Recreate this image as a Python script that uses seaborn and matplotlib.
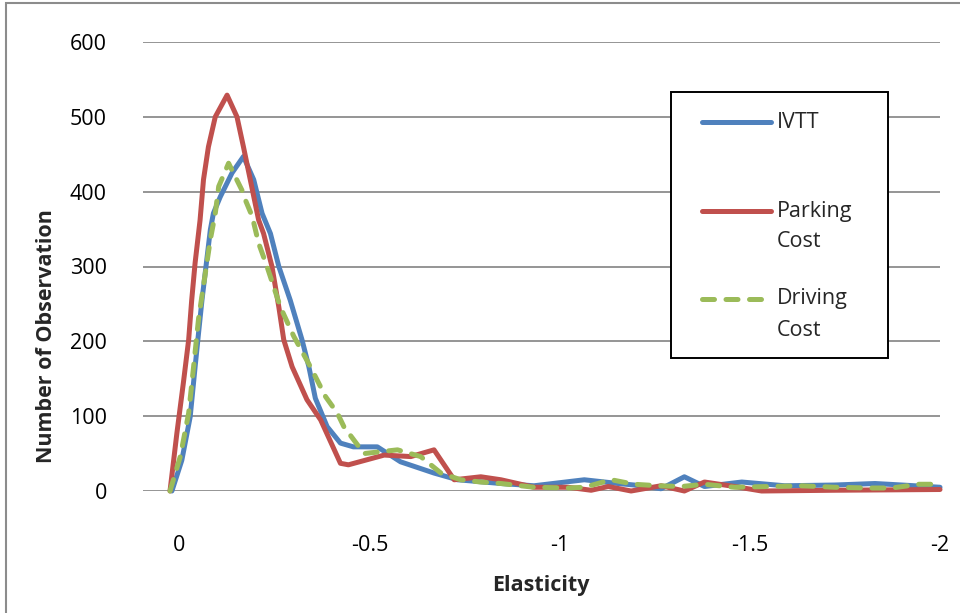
import numpy as np
import pandas as pd
import matplotlib
matplotlib.use("Agg")
import matplotlib.pyplot as plt
import seaborn as sns
from matplotlib.patches import Rectangle
from matplotlib.lines import Line2D

# ---- data ----
ivtt_x = [0.019, -0.007, -0.029, -0.042, -0.051, -0.060, -0.082, -0.090, -0.108, -0.139,
          -0.169, -0.196, -0.218, -0.240, -0.262, -0.292, -0.323, -0.341, -0.358, -0.389,
          -0.424, -0.458, -0.521, -0.582, -0.670, -0.732, -0.846, -0.933, -1.065, -1.154,
          -1.196, -1.267, -1.328, -1.381, -1.479, -1.592, -1.723, -1.829, -1.900, -2.000]
ivtt_y = [0, 41, 99, 166, 211, 255, 349, 371, 393, 425,
          447, 416, 371, 344, 300, 255, 202, 166, 124, 86,
          64, 59, 59, 39, 24, 15, 10, 7, 15, 10,
          8, 3, 19, 6, 12, 7, 8, 10, 8, 5]

park_x = [0.024, 0.006, -0.011, -0.025, -0.033, -0.042, -0.055, -0.064, -0.077, -0.095,
          -0.126, -0.152, -0.169, -0.187, -0.209, -0.222, -0.244, -0.262, -0.275, -0.297,
          -0.336, -0.372, -0.424, -0.445, -0.539, -0.609, -0.670, -0.723, -0.793, -0.846,
          -0.933, -1.022, -1.083, -1.128, -1.188, -1.267, -1.328, -1.381, -1.460, -1.531,
          -1.723, -2.000]
park_y = [0, 77, 144, 202, 255, 305, 362, 416, 460, 500,
          529, 500, 460, 416, 362, 344, 300, 246, 202, 166,
          122, 95, 37, 35, 48, 46, 55, 15, 19, 15,
          5, 5, 1, 6, 0, 7, 0, 12, 6, 0,
          1, 2]

drive_x = [0.024, -0.003, -0.025, -0.038, -0.051, -0.082, -0.095, -0.104, -0.130, -0.165,
           -0.174, -0.192, -0.209, -0.231, -0.266, -0.301, -0.345, -0.385, -0.416, -0.433,
           -0.486, -0.574, -0.635, -0.688, -0.740, -0.793, -0.846, -0.933, -1.022, -1.065,
           -1.136, -1.196, -1.260, -1.320, -1.381, -1.460, -1.550, -1.636, -1.723, -1.813,
           -1.873, -1.945, -2.000]
drive_y = [0, 46, 104, 166, 230, 336, 371, 407, 438, 402,
           389, 367, 331, 300, 246, 207, 166, 126, 104, 86,
           50, 55, 46, 24, 15, 12, 10, 5, 4, 5,
           15, 9, 7, 6, 9, 5, 6, 7, 5, 4,
           4, 9, 9]

series_names = ["IVTT", "Parking Cost", "Driving Cost"]
legend_labels = [["IVTT"], ["Parking", "Cost"], ["Driving", "Cost"]]
colors = ["#4F81BD", "#C0504D", "#9BBB59"]
y_ticks = [0, 100, 200, 300, 400, 500, 600]
x_ticks = [0, -0.5, -1, -1.5, -2]
x_tick_labels = ["0", "-0.5", "-1", "-1.5", "-2"]

sns.set_theme(style="white")
plt.rcParams["font.family"] = ["Open Sans", "DejaVu Sans"]

fig = plt.figure(figsize=(9.6, 6.13), dpi=100)
ax = fig.add_axes([143 / 960, 1 - 491 / 613, (940 - 143) / 960, (491 - 42) / 613])

frames = [
    pd.DataFrame({"x": ivtt_x, "y": ivtt_y}),
    pd.DataFrame({"x": park_x, "y": park_y}),
    pd.DataFrame({"x": drive_x, "y": drive_y}),
]

ax.set_xlim(0.095, -2.0)
ax.set_ylim(0, 600)
ax.set_yticks(y_ticks)
ax.set_xticks(x_ticks)
ax.set_xticklabels(x_tick_labels)
ax.grid(axis="y", color="#8c8c8c", linewidth=1.3)
ax.grid(axis="x", visible=False)
ax.set_axisbelow(True)
for s in ax.spines.values():
    s.set_visible(False)
ax.tick_params(axis="both", length=0, labelsize=15.5, colors="black")
ax.tick_params(axis="y", pad=26)
ax.tick_params(axis="x", pad=32)

for i, (df, c) in enumerate(zip(frames, colors)):
    sns.lineplot(data=df, x="x", y="y", ax=ax, color=c, linewidth=3.6,
                 sort=False, estimator=None, legend=False)
lines = ax.get_lines()
for i, ln in enumerate(lines):
    ln.set_clip_on(False)
    ln.set_solid_capstyle("round")
    ln.set_solid_joinstyle("round")
    if i == 2:
        ln.set_dashes([2.4, 2.3])
        ln.set_dash_capstyle("round")

ax.set_xlabel("Elasticity", fontsize=15.5, fontweight="bold")
ax.set_ylabel("Number of Observation", fontsize=15.5, fontweight="bold")
ax.xaxis.set_label_coords((541 - 143) / 797, (491 - 585) / 449)
ax.xaxis.label.set_va("center")
ax.yaxis.set_label_coords((47 - 143) / 797, (491 - 336) / 449)
ax.yaxis.label.set_va("center")

# legend box (manual, in figure pixel coords)
def fx(px):
    return px / 960
def fy(py):
    return 1 - py / 613

fig.patches.append(Rectangle((fx(671), fy(358)), fx(888) - fx(671), fy(92) - fy(358),
                             transform=fig.transFigure, facecolor="white",
                             edgecolor="black", linewidth=1.4, zorder=5))
handle_y = [122, 211, 299]
for i, (c, labs) in enumerate(zip(colors, legend_labels)):
    ln = Line2D([fx(702), fx(771)], [fy(handle_y[i])] * 2, transform=fig.transFigure,
                color=c, linewidth=3.6, solid_capstyle="round", zorder=6)
    if i == 2:
        ln.set_dashes([2.4, 2.3])
        ln.set_dash_capstyle("round")
    fig.lines.append(ln)
    for j, lab in enumerate(labs):
        fig.text(fx(777), fy(handle_y[i] + 31 * j), lab, fontsize=15.5,
                 va="center", ha="left", zorder=7)

# outer chart frame
fig.patches.append(Rectangle((fx(6), -0.05), 1.2, fy(3) + 0.05, transform=fig.transFigure,
                             facecolor="none", edgecolor="#8c8c8c", linewidth=1.5))

fig.savefig("out.png", dpi=100)
